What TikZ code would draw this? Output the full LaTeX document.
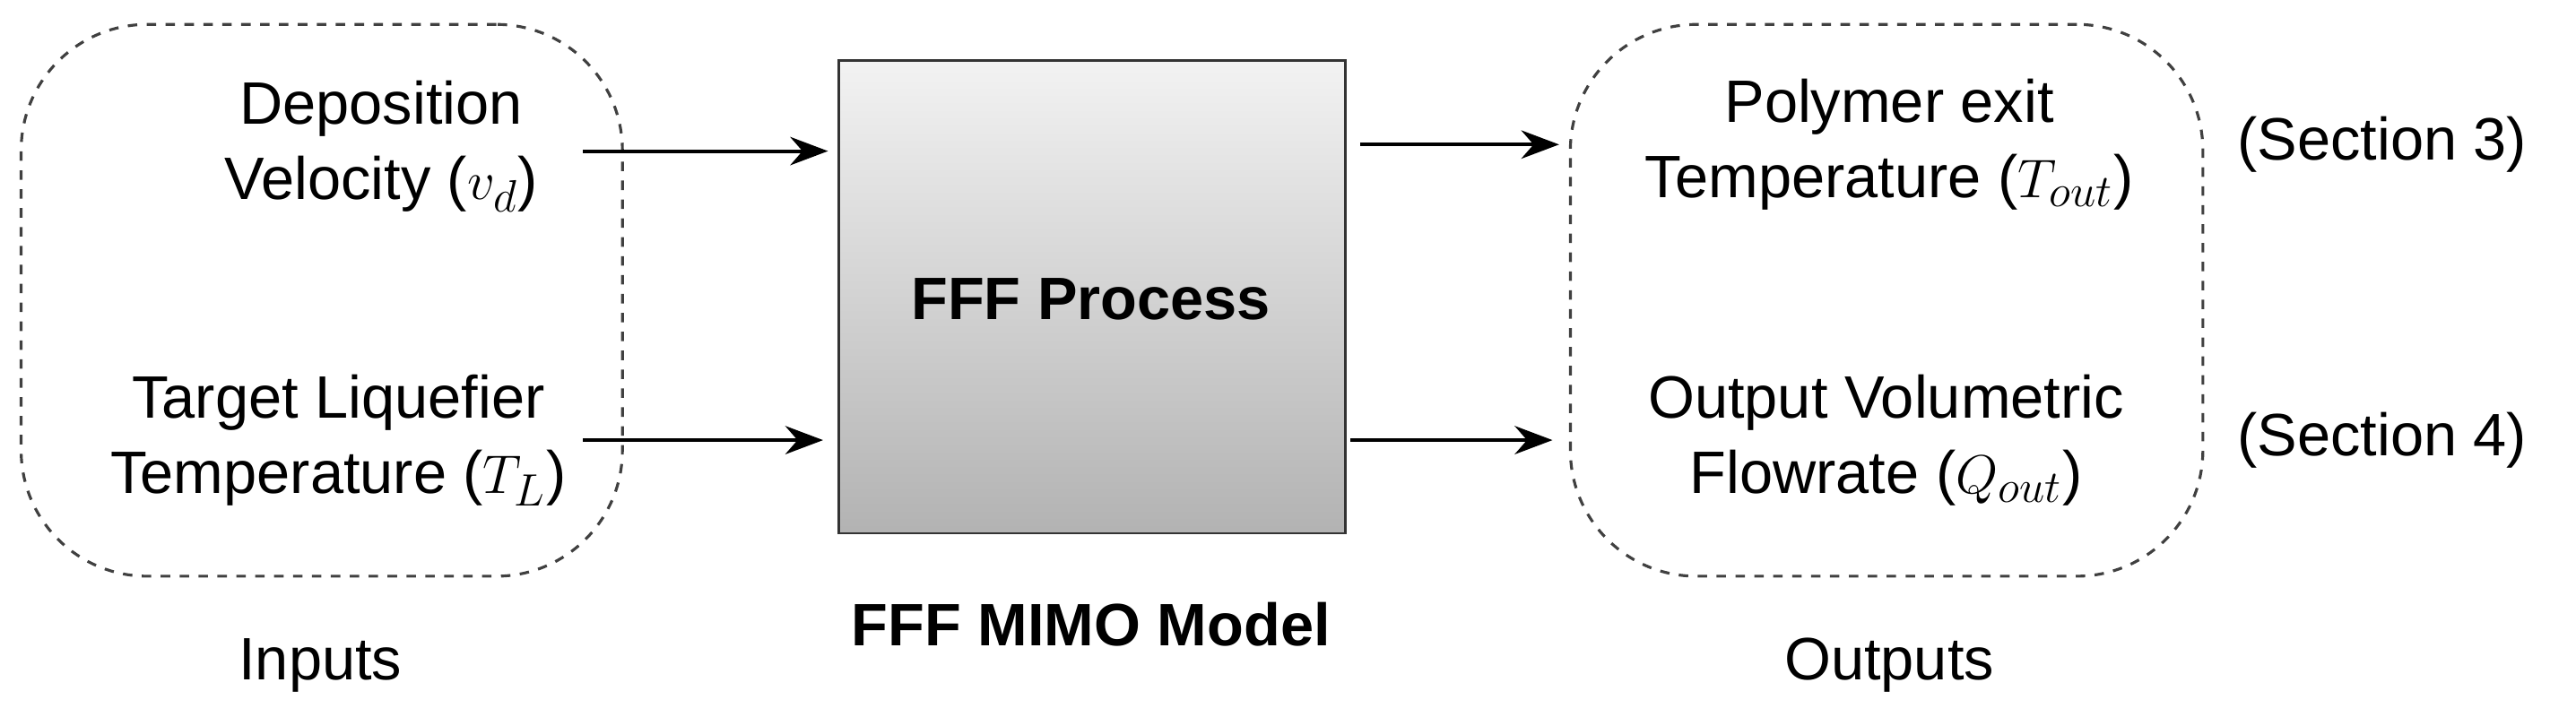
\documentclass[tikz,border=0pt]{standalone}
\usetikzlibrary{arrows.meta}
\usepackage{fontspec}
\setmainfont{Liberation Sans}
\begin{document}
\begin{tikzpicture}[x=0.01832cm,y=-0.01832cm,
  txt/.style={font=\fontsize{19}{24}\selectfont,align=center,inner sep=0},
  grp/.style={draw=black!75,dashed,line width=0.9pt,rounded corners=40},
  arr/.style={draw,line width=1.1pt,-{Stealth[length=12pt,width=9pt]}}]
\useasboundingbox (0,0) rectangle (1568,436.6);
\node[grp,minimum width=366*0.01832cm,minimum height=336*0.01832cm,anchor=north west] (inbox) at (12,14) {};
\node[grp,minimum width=385*0.01832cm,minimum height=336*0.01832cm,anchor=north west] (outbox) at (955,14) {};
\node[draw=black!80,line width=0.8pt,top color=gray!10,bottom color=gray!60,minimum width=308*0.01832cm,minimum height=288*0.01832cm,anchor=north west] (proc) at (510,36) {};
\node[txt,font=\fontsize{19}{24}\selectfont\bfseries] (pl) at (664,182) {FFF Process};
\node[txt,font=\fontsize{19}{24}\selectfont\bfseries] (mimo) at (664,380) {FFF MIMO Model};
\node[txt] (v) at (232,89) {Deposition\\Velocity ($v_d$)};
\node[txt] (t) at (206,268) {Target Liquefier\\Temperature ($T_L$)};
\node[txt] (to) at (1150,88) {Polymer exit\\Temperature ($T_{out}$)};
\node[txt] (q) at (1148,268) {Output Volumetric\\Flowrate ($Q_{out}$)};
\node[txt] (s3) at (1450,88) {(Section 3)};
\node[txt] (s4) at (1450,268) {(Section 4)};
\node[txt] (in) at (195,405) {Inputs};
\node[txt] (out) at (1150,405) {Outputs};
\coordinate (a1) at (355,92); \coordinate (b1) at (504,92);
\coordinate (a2) at (355,268); \coordinate (b2) at (501,268);
\coordinate (a3) at (828,88); \coordinate (b3) at (949,88);
\coordinate (a4) at (822,268); \coordinate (b4) at (945,268);
\draw[arr] (a1) -- (b1);
\draw[arr] (a2) -- (b2);
\draw[arr] (a3) -- (b3);
\draw[arr] (a4) -- (b4);
\end{tikzpicture}
\end{document}
